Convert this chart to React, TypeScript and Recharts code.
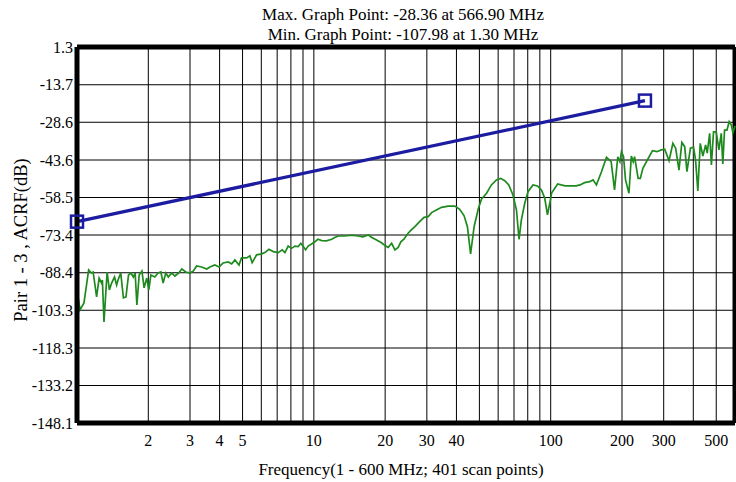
import React from 'react'
import { LineChart, Line, XAxis, YAxis, CartesianGrid, ReferenceLine } from 'recharts'

// measured trace (MHz, dB)
const freqs = [
  1.0, 1.03, 1.07, 1.12, 1.15, 1.17, 1.21, 1.24, 1.27, 1.28, 1.3, 1.34, 1.37, 1.4, 1.44, 1.47, 1.49, 1.53,
  1.57, 1.61, 1.65, 1.69, 1.73, 1.76, 1.79, 1.83, 1.88, 1.92, 1.97, 2.01, 2.05, 2.13, 2.2, 2.26, 2.31, 2.37,
  2.43, 2.51, 2.59, 2.69, 2.77, 2.88, 3.0, 3.1, 3.2, 3.36, 3.53, 3.64, 3.82, 3.98, 4.14, 4.35, 4.5, 4.64,
  4.83, 4.95, 5.2, 5.37, 5.49, 5.73, 6.02, 6.21, 6.46, 6.74, 7.07, 7.35, 7.55, 7.79, 8.05, 8.32, 8.59, 8.81,
  9.02, 9.23, 9.46, 9.78, 10.1, 10.4, 10.8, 11.3, 11.9, 12.3, 12.7, 13.5, 14.4, 15.4, 16.1, 17.0, 17.5, 18.4,
  19.3, 20.1, 20.6, 21.3, 22.0, 22.7, 23.3, 24.0, 25.0, 25.8, 26.7, 27.7, 29.2, 30.4, 31.4, 32.9, 34.6, 36.9,
  39.4, 41.3, 43.1, 44.5, 45.9, 47.5, 49.4, 51.0, 53.6, 56.2, 59.0, 61.5, 64.0, 66.5, 69.3, 71.7, 73.5, 75.2,
  77.7, 80.2, 84.2, 87.9, 91.4, 94.4, 96.9, 99.1, 101, 107, 115, 120, 128, 133, 139, 146, 151, 156,
  164, 172, 180, 186, 192, 196, 199, 203, 207, 214, 219, 223, 226, 234, 239, 245, 257, 269,
  281, 293, 303, 316, 328, 337, 348, 358, 368, 376, 389, 401, 409, 418, 428, 439, 451, 458,
  469, 477, 487, 500, 513, 525, 533, 542, 555, 567, 579, 588, 600,
]
const acrf = [
  -95.2, -103.2, -100.4, -87.3, -88.5, -88.1, -98.0, -90.5, -92.5, -91.3, -107.98, -88.1, -95.2, -92.5, -90.1, -93.3, -91.3, -88.5,
  -98.4, -98.0, -89.3, -88.5, -90.1, -88.5, -101.2, -89.3, -87.7, -94.4, -90.5, -95.2, -89.3, -90.1, -88.5, -88.1, -92.5, -88.5,
  -90.1, -88.5, -89.7, -88.5, -86.9, -88.1, -88.5, -87.7, -85.7, -86.1, -86.9, -86.1, -85.3, -86.1, -84.5, -84.1, -84.9, -83.3,
  -85.3, -82.5, -82.5, -81.7, -84.4, -81.3, -80.9, -80.4, -79.1, -80.0, -80.4, -79.3, -80.4, -77.8, -78.7, -77.8, -78.0, -76.7,
  -78.0, -79.3, -77.8, -77.0, -76.1, -75.1, -75.6, -75.7, -75.1, -74.3, -73.8, -73.8, -73.5, -73.8, -74.1, -73.4, -74.3, -75.4,
  -76.5, -77.8, -78.3, -76.7, -79.3, -78.3, -76.1, -75.1, -72.7, -71.4, -70.1, -68.5, -66.4, -66.1, -64.5, -63.5, -62.4, -61.9,
  -61.9, -63.2, -65.8, -70.1, -80.9, -70.1, -63.2, -59.2, -56.8, -53.5, -51.5, -50.9, -51.8, -53.5, -57.5, -63.5, -75.1, -67.4,
  -60.8, -56.2, -53.5, -53.9, -55.5, -58.8, -65.4, -60.8, -56.6, -53.1, -53.9, -53.9, -53.9, -53.5, -52.6, -52.2, -51.5, -53.5,
  -48.2, -42.5, -44.3, -55.5, -42.3, -44.3, -40.3, -42.3, -51.5, -56.8, -42.0, -44.3, -42.3, -50.9, -50.9, -46.9, -43.3, -39.9,
  -40.3, -39.6, -39.3, -43.9, -37.0, -38.9, -47.6, -36.6, -38.3, -48.2, -38.9, -38.5, -43.6, -55.9, -37.0, -42.0, -37.6, -40.9,
  -33.0, -45.6, -32.4, -32.4, -39.6, -33.0, -45.2, -31.7, -31.7, -28.36, -29.7, -32.7, -30.1,
]

// limit line
const limitFreqs = [1, 250]
const limitValues = [-68.1, -20.0]

const xGridTicks = [2, 3, 4, 5, 6, 7, 8, 9, 10, 20, 30, 40, 50, 60, 70, 80, 90, 100, 200, 300, 400, 500]
const xLabelTicks = [2, 3, 4, 5, 10, 20, 30, 40, 100, 200, 300, 500]
const yTicks = [1.3, -13.7, -28.6, -43.6, -58.5, -73.4, -88.4, -103.3, -118.3, -133.2, -148.1]

const traceData = freqs.map((f, i) => ({ f, v: acrf[i] }))
const limitData = limitFreqs.map((f, i) => ({ f, v: limitValues[i] }))

const font = '"Liberation Serif", "Times New Roman", serif'
const tickStyle = { fill: '#000', fontSize: 16, fontFamily: font }

const SquareDot = (props: any) => {
  const { cx, cy } = props
  if (cx == null || cy == null) return null
  return <rect x={cx - 6} y={cy - 6} width={12} height={12} fill="none" stroke="#1c1ca0" strokeWidth={2.5} />
}

export default function App() {
  return (
    <div style={{ position: 'absolute', left: 0, top: 0, width: 736, height: 482, fontFamily: font, color: '#000', background: '#fff' }}>
      <div style={{ position: 'absolute', left: 0, width: 806, top: 5, textAlign: 'center', fontSize: 17, whiteSpace: 'nowrap' }}>
        Max. Graph Point: -28.36 at 566.90 MHz
      </div>
      <div style={{ position: 'absolute', left: 0, width: 806, top: 25, textAlign: 'center', fontSize: 17, whiteSpace: 'nowrap' }}>
        Min. Graph Point: -107.98 at 1.30 MHz
      </div>
      <LineChart width={736} height={482} data={traceData} margin={{ top: 47, right: 1, bottom: 29, left: 7 }}>
        <CartesianGrid stroke="#000" strokeWidth={1} />
        <XAxis
          dataKey="f"
          type="number"
          scale="log"
          domain={[1, 600]}
          ticks={xGridTicks}
          interval={0}
          tickFormatter={(t: number) => (xLabelTicks.includes(t) ? String(t) : '')}
          tick={tickStyle}
          tickLine={false}
          tickSize={0}
          tickMargin={12}
          height={30}
          axisLine={{ stroke: '#000', strokeWidth: 5 }}
        />
        <YAxis
          type="number"
          domain={[-148.1, 1.3]}
          ticks={yTicks}
          interval={0}
          tick={tickStyle}
          tickLine={false}
          tickSize={0}
          tickMargin={4}
          width={70}
          axisLine={{ stroke: '#000', strokeWidth: 5 }}
        />
        <ReferenceLine y={1.3} stroke="#000" strokeWidth={5} />
        <ReferenceLine x={600} stroke="#000" strokeWidth={5} />
        <Line
          dataKey="v"
          stroke="#1e8a1e"
          strokeWidth={1.7}
          dot={false}
          isAnimationActive={false}
        />
        <Line
          data={limitData}
          dataKey="v"
          stroke="#1c1ca0"
          strokeWidth={3.2}
          dot={<SquareDot />}
          isAnimationActive={false}
        />
      </LineChart>
      <div style={{ position: 'absolute', left: 0, width: 802, top: 460, textAlign: 'center', fontSize: 17, whiteSpace: 'nowrap' }}>
        Frequency(1 - 600 MHz; 401 scan points)
      </div>
      <div
        style={{
          position: 'absolute',
          left: 21,
          top: 240,
          transform: 'translate(-50%, -50%) rotate(-90deg)',
          fontSize: 18.5,
          whiteSpace: 'nowrap',
        }}
      >
        Pair 1 - 3 , ACRF(dB)
      </div>
    </div>
  )
}
